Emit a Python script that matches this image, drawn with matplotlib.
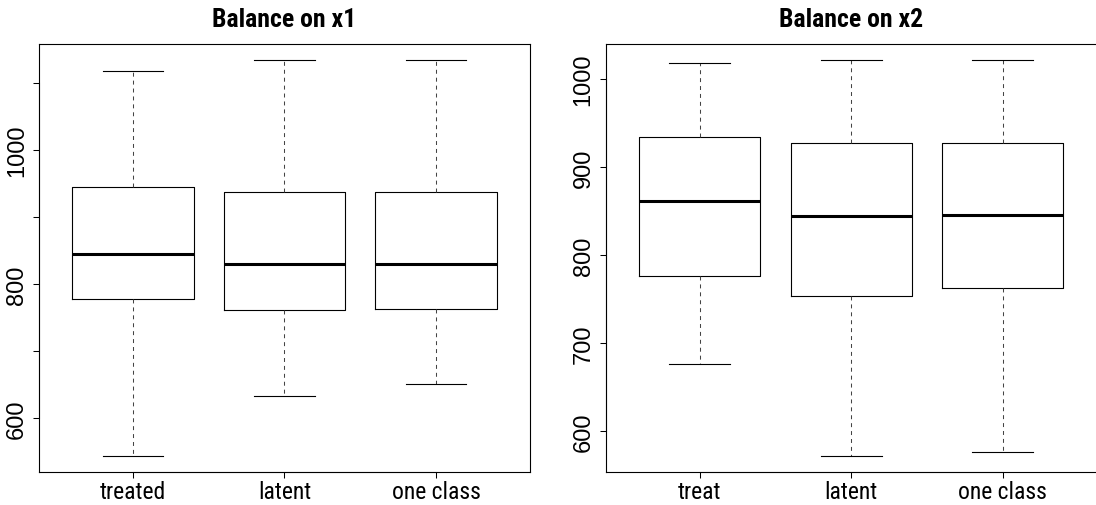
import matplotlib
matplotlib.use("Agg")
import matplotlib.pyplot as plt
from matplotlib import font_manager

groups_x1 = ["treated", "latent", "one class"]
groups_x2 = ["treat", "latent", "one class"]

# five-number summaries: lower whisker, q1, median, q3, upper whisker
x1_low = [543, 633, 651]
x1_q1 = [778, 761, 762]
x1_med = [844, 830, 830]
x1_q3 = [944, 937, 937]
x1_high = [1118, 1134, 1134]

x2_low = [676, 571, 576]
x2_q1 = [776, 753, 762]
x2_med = [861, 844, 846]
x2_q3 = [934, 927, 927]
x2_high = [1019, 1022, 1022]

x1_ticks = [600, 700, 800, 900, 1000, 1100]
x1_ticklabels = ["600", "", "800", "", "1000", ""]
x2_ticks = [600, 700, 800, 900, 1000]
x2_ticklabels = ["600", "700", "800", "900", "1000"]

# prefer a narrow Helvetica-like face when one is installed
names = {f.name for f in font_manager.fontManager.ttflist}
narrow = [n for n in ["Liberation Sans Narrow", "Arial Narrow", "Roboto Condensed",
                      "Open Sans Condensed"] if n in names]
if narrow:
    FAMILY, XSIZE, TSIZE = narrow[0], 17, 18.5
else:
    FAMILY, XSIZE, TSIZE = "Liberation Sans", 15, 16
YFAMILY, YSIZE = "Liberation Sans", 17
plt.rcParams["font.family"] = [FAMILY, "DejaVu Sans"]


def make_stats(labels, low, q1, med, q3, high):
    stats = []
    for i in range(len(labels)):
        stats.append(dict(label=labels[i], whislo=low[i], q1=q1[i], med=med[i],
                          q3=q3[i], whishi=high[i], fliers=[]))
    return stats


def draw_panel(ax, title, labels, low, q1, med, q3, high, ticks, ticklabels):
    stats = make_stats(labels, low, q1, med, q3, high)
    ax.bxp(stats, positions=[1, 2, 3], widths=0.8, capwidths=0.4,
           showfliers=False,
           boxprops=dict(color="black", linewidth=0.8),
           medianprops=dict(color="black", linewidth=2.2, solid_capstyle="butt"),
           whiskerprops=dict(color="#444444", linewidth=0.75,
                             linestyle=(0, (3.8, 3.8))),
           capprops=dict(color="black", linewidth=0.8))
    lo = min(low)
    hi = max(high)
    pad = 0.04 * (hi - lo)
    ax.set_ylim(lo - pad, hi + pad)
    ax.set_xlim(0.38, 3.62)
    ax.set_yticks(ticks)
    ax.set_yticklabels(ticklabels, rotation=90, va="center",
                       family=[YFAMILY, "DejaVu Sans"], fontsize=YSIZE)
    ax.set_xticks([1, 2, 3])
    ax.set_xticklabels(labels, fontsize=XSIZE)
    ax.tick_params(axis="both", length=4.5, width=0.75,
                   direction="out", color="black")
    ax.tick_params(axis="x", pad=1)
    ax.tick_params(axis="y", pad=3.5)
    for s in ax.spines.values():
        s.set_linewidth(0.8)
        s.set_color("black")
    # axis lines running between first and last tick
    ax.plot([0.38, 0.38], [ticks[0], ticks[-1]], color="black", lw=0.75,
            clip_on=False)
    ax.plot([1, 3], [lo - pad, lo - pad], color="black", lw=0.75, clip_on=False)
    ax.set_title(title, fontsize=TSIZE, fontweight="bold", pad=13)


fig = plt.figure(figsize=(10.96, 5.06), dpi=100)
W, H = 1096.0, 506.0
bottom = (H - 473.3) / H
height = (473.3 - 45.0) / H
ax1 = fig.add_axes([39 / W, bottom, 491 / W, height])
ax2 = fig.add_axes([605.7 / W, bottom, 491 / W, height])

draw_panel(ax1, "Balance on x1", groups_x1, x1_low, x1_q1, x1_med, x1_q3,
           x1_high, x1_ticks, x1_ticklabels)
draw_panel(ax2, "Balance on x2", groups_x2, x2_low, x2_q1, x2_med, x2_q3,
           x2_high, x2_ticks, x2_ticklabels)

fig.savefig("out.png", dpi=100)
